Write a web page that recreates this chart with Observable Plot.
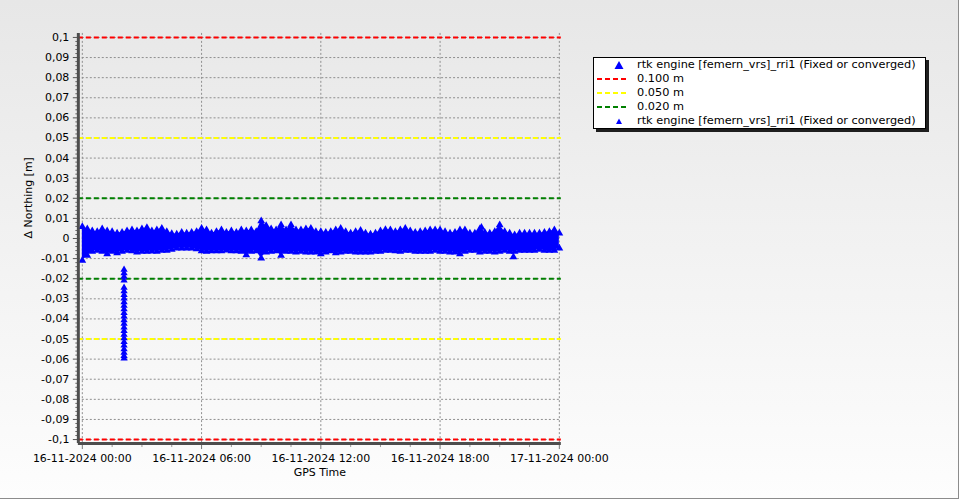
<!DOCTYPE html>
<html>
<head>
<meta charset="utf-8">
<script src="https://cdn.jsdelivr.net/npm/d3@7"></script>
<script src="https://cdn.jsdelivr.net/npm/@observablehq/plot@0.6"></script>
<style>
  body { margin: 0; background: #fff; }
  #wrap {
    position: relative; width: 958px; height: 498px;
    border-right: 1px solid #8c8c8c; border-bottom: 1px solid #8c8c8c;
    background: linear-gradient(#e7e7e7, #fdfdfd);
    font-family: "DejaVu Sans", sans-serif;
    overflow: hidden;
  }
  #chart svg { position: absolute; left: 0; top: 0; }
  #legend {
    position: absolute; left: 593px; top: 57px; width: 331px; height: 70px;
    background: #fff; border: 1px solid #000; box-shadow: 3px 3px 0 #1e1e1e;
    font-size: 11.3px; color: #000;
  }
  .row { height: 14px; line-height: 14px; display: flex; align-items: center; white-space: nowrap; }
  .row svg { width: 40px; height: 14px; flex: none; }
  .row span { margin-left: 3px; }
</style>
</head>
<body>
<div id="wrap">
  <div id="chart"></div>
  <div id="legend"></div>
</div>
<script>
// ---------- data ----------
const startDate = "2024-11-16T00:00:00Z";
const sampleHours = [0,0.25,0.5,0.75,1,1.25,1.5,1.75,2,2.25,2.5,2.75,3,3.25,3.5,3.75,4,4.25,4.5,4.75,5,5.25,5.5,5.75,
  6,6.25,6.5,6.75,7,7.25,7.5,7.75,8,8.25,8.5,8.75,9,9.25,9.5,9.75,10,10.25,10.5,10.75,11,11.25,11.5,11.75,
  12,12.25,12.5,12.75,13,13.25,13.5,13.75,14,14.25,14.5,14.75,15,15.25,15.5,15.75,16,16.25,16.5,16.75,17,17.25,17.5,17.75,
  18,18.25,18.5,18.75,19,19.25,19.5,19.75,20,20.25,20.5,20.75,21,21.25,21.5,21.75,22,22.25,22.5,22.75,23,23.25,23.5,23.75,24];
// upper edge of the dense point cloud (Δ Northing, m)
const upperEnv = [0.0059,0.0047,0.0037,0.0034,0.0047,0.0037,0.0034,0.0026,0.0030,0.0037,0.0042,0.0037,0.0047,0.0054,0.0037,0.0042,0.0050,0.0034,0.0024,0.0021,0.0030,0.0026,0.0030,0.0034,
  0.0050,0.0042,0.0026,0.0034,0.0042,0.0030,0.0037,0.0030,0.0042,0.0037,0.0042,0.0034,0.0087,0.0064,0.0047,0.0042,0.0067,0.0042,0.0067,0.0042,0.0042,0.0047,0.0050,0.0034,
  0.0034,0.0030,0.0034,0.0042,0.0050,0.0034,0.0026,0.0034,0.0040,0.0026,0.0021,0.0026,0.0037,0.0044,0.0042,0.0034,0.0042,0.0050,0.0037,0.0030,0.0034,0.0037,0.0042,0.0042,
  0.0042,0.0034,0.0026,0.0030,0.0042,0.0042,0.0026,0.0026,0.0047,0.0030,0.0026,0.0034,0.0067,0.0034,0.0026,0.0017,0.0026,0.0026,0.0026,0.0026,0.0026,0.0030,0.0034,0.0042,0.0026];
// lower edge of the dense point cloud (Δ Northing, m)
const lowerEnv = [-0.0110,-0.0085,-0.0065,-0.0060,-0.0065,-0.0077,-0.0065,-0.0072,-0.0065,-0.0060,-0.0062,-0.0068,-0.0065,-0.0065,-0.0064,-0.0065,-0.0060,-0.0060,-0.0055,-0.0049,-0.0049,-0.0049,-0.0049,-0.0052,
  -0.0062,-0.0065,-0.0062,-0.0062,-0.0062,-0.0059,-0.0062,-0.0062,-0.0065,-0.0082,-0.0065,-0.0062,-0.0098,-0.0068,-0.0065,-0.0062,-0.0085,-0.0065,-0.0065,-0.0068,-0.0065,-0.0068,-0.0068,-0.0068,
  -0.0077,-0.0068,-0.0062,-0.0072,-0.0068,-0.0065,-0.0065,-0.0068,-0.0068,-0.0068,-0.0068,-0.0065,-0.0065,-0.0060,-0.0060,-0.0062,-0.0065,-0.0060,-0.0060,-0.0065,-0.0065,-0.0065,-0.0065,-0.0060,
  -0.0065,-0.0065,-0.0068,-0.0068,-0.0077,-0.0065,-0.0060,-0.0060,-0.0068,-0.0065,-0.0065,-0.0068,-0.0065,-0.0060,-0.0065,-0.0065,-0.0060,-0.0060,-0.0060,-0.0060,-0.0055,-0.0060,-0.0060,-0.0060,-0.0049];
// isolated points outside the cloud
const outlierHours = [20.08, 21.69];
const outlierValues = [0.0055, -0.0092];
// the excursion shortly after 02:00
const spikeHour = 2.1;
const spikeValues = [-0.0155,-0.0172,-0.0190,-0.0208,-0.0245,-0.0262,-0.0280,-0.0298,-0.0316,-0.0334,-0.0352,-0.0370,
  -0.0388,-0.0406,-0.0424,-0.0442,-0.0460,-0.0478,-0.0496,-0.0514,-0.0532,-0.0550,-0.0568,-0.0584,-0.0597];
// threshold lines
const thresholdNames = ["0.100 m", "0.050 m", "0.020 m"];
const thresholdValues = [0.1, 0.05, 0.02];
const thresholdColors = ["#ff0000", "#ffff00", "#008000"];
// axes
const yTicks = [0.1,0.09,0.08,0.07,0.06,0.05,0.04,0.03,0.02,0.01,0,-0.01,-0.02,-0.03,-0.04,-0.05,-0.06,-0.07,-0.08,-0.09,-0.1];
const yTickLabels = ["0,1","0,09","0,08","0,07","0,06","0,05","0,04","0,03","0,02","0,01","0","-0,01","-0,02","-0,03","-0,04","-0,05","-0,06","-0,07","-0,08","-0,09","-0,1"];
const xTickHours = [0, 6, 12, 18, 24];
const xTickLabels = ["16-11-2024 00:00","16-11-2024 06:00","16-11-2024 12:00","16-11-2024 18:00","17-11-2024 00:00"];
const xMinorHours = [1.5,3,4.5,7.5,9,10.5,13.5,15,16.5,19.5,21,22.5];
const yMinorTicks = [0.098,0.096,0.094,0.092,0.088,0.086,0.084,0.082,0.078,0.076,0.074,0.072,0.068,0.066,0.064,0.062,0.058,0.056,0.054,0.052,
  0.048,0.046,0.044,0.042,0.038,0.036,0.034,0.032,0.028,0.026,0.024,0.022,0.018,0.016,0.014,0.012,0.008,0.006,0.004,0.002,
  -0.002,-0.004,-0.006,-0.008,-0.012,-0.014,-0.016,-0.018,-0.022,-0.024,-0.026,-0.028,-0.032,-0.034,-0.036,-0.038,-0.042,-0.044,-0.046,-0.048,
  -0.052,-0.054,-0.056,-0.058,-0.062,-0.064,-0.066,-0.068,-0.072,-0.074,-0.076,-0.078,-0.082,-0.084,-0.086,-0.088,-0.092,-0.094,-0.096,-0.098];
const xDomainHours = [-0.2, 24.1];
const yDomain = [-0.102, 0.102];
const seriesName = "rtk engine [femern_vrs]_rri1 (Fixed or converged)";
const yLabel = "Δ Northing [m]";
const xLabel = "GPS Time";

// ---------- build ----------
const t0 = new Date(startDate).getTime();
const toDate = h => new Date(t0 + h * 3600e3);
const blue = "#0000ff";
const band = sampleHours.map((h, i) => ({t: toDate(h), lo: lowerEnv[i], hi: upperEnv[i]}));
const edgePts = band.flatMap(d => [{t: d.t, v: d.hi}, {t: d.t, v: d.lo}]);
const outliers = outlierHours.map((h, i) => ({t: toDate(h), v: outlierValues[i]}));
const spike = spikeValues.map(v => ({t: toDate(spikeHour), v}));
const thresholds = thresholdValues.flatMap((v, i) => [{v, c: thresholdColors[i]}, {v: -v, c: thresholdColors[i]}]);
const xTicks = xTickHours.map(toDate);
const xMinor = xMinorHours.map(toDate);
const fontFam = '"DejaVu Sans", sans-serif';

const chart = Plot.plot({
  width: 960, height: 500,
  marginLeft: 78, marginRight: 398, marginTop: 33, marginBottom: 56,
  style: {background: "transparent", fontFamily: fontFam, fontSize: "11px", color: "#000"},
  x: {type: "utc", domain: xDomainHours.map(toDate)},
  y: {domain: yDomain},
  marks: [
    Plot.gridY(yTicks, {stroke: "#8f8f8f", strokeOpacity: 1, strokeDasharray: "2,2"}),
    Plot.gridX(xTicks, {stroke: "#8f8f8f", strokeOpacity: 1, strokeDasharray: "2,2"}),
    Plot.ruleY(thresholds, {y: "v", stroke: "c", strokeWidth: 2, strokeDasharray: "5,3"}),
    Plot.areaY(band, {x: "t", y1: "lo", y2: "hi", fill: blue}),
    Plot.dot(edgePts, {x: "t", y: "v", symbol: "triangle", r: 2.9, fill: blue}),
    Plot.dot(outliers, {x: "t", y: "v", symbol: "triangle", r: 2.9, fill: blue}),
    Plot.dot(spike, {x: "t", y: "v", symbol: "triangle", r: 2.7, fill: blue}),
    Plot.axisY(yTicks, {anchor: "left", tickSize: 5, tickPadding: 4, stroke: "#555",
      tickFormat: (d) => yTickLabels[yTicks.indexOf(d)], label: null, fontSize: 11}),
    Plot.axisY(yMinorTicks, {anchor: "left", tickSize: 2.5, stroke: "#666", tickFormat: () => "", label: null}),
    Plot.axisX(xTicks, {anchor: "bottom", tickSize: 6, tickPadding: 5, stroke: "#777",
      tickFormat: (d) => xTickLabels[xTicks.findIndex(t => +t === +d)], label: null, fontSize: 11}),
    Plot.axisX(xMinor, {anchor: "bottom", tickSize: 4, stroke: "#999", tickFormat: () => "", label: null}),
    Plot.ruleX([toDate(xDomainHours[0])], {stroke: "#4d4d4d", strokeWidth: 3, y1: yDomain[0], y2: yDomain[1]}),
    Plot.ruleY([yDomain[0]], {stroke: "#4d4d4d", strokeWidth: 3, x1: toDate(xDomainHours[0]), x2: toDate(xDomainHours[1])}),
    Plot.text([xLabel], {frameAnchor: "bottom", dy: 32, fontSize: 11, fill: "#000"}),
    Plot.text([yLabel], {frameAnchor: "left", dx: -50, rotate: -90, fontSize: 11, fill: "#000"})
  ]
});
document.getElementById("chart").appendChild(chart);

// ---------- legend ----------
const legend = document.getElementById("legend");
function row(swatch, label) {
  const r = document.createElement("div");
  r.className = "row";
  r.innerHTML = `<svg viewBox="0 0 40 14">${swatch}</svg><span>${label}</span>`;
  legend.appendChild(r);
}
row(`<path d="M25,3 L29.5,11 L20.5,11 Z" fill="${blue}"/>`, seriesName);
thresholdNames.forEach((n, i) =>
  row(`<line x1="3" x2="34" y1="7" y2="7" stroke="${thresholdColors[i]}" stroke-width="2" stroke-dasharray="5,3"/>`, n));
row(`<path d="M25,4.5 L28,10 L22,10 Z" fill="${blue}"/>`, seriesName);
</script>
</body>
</html>
